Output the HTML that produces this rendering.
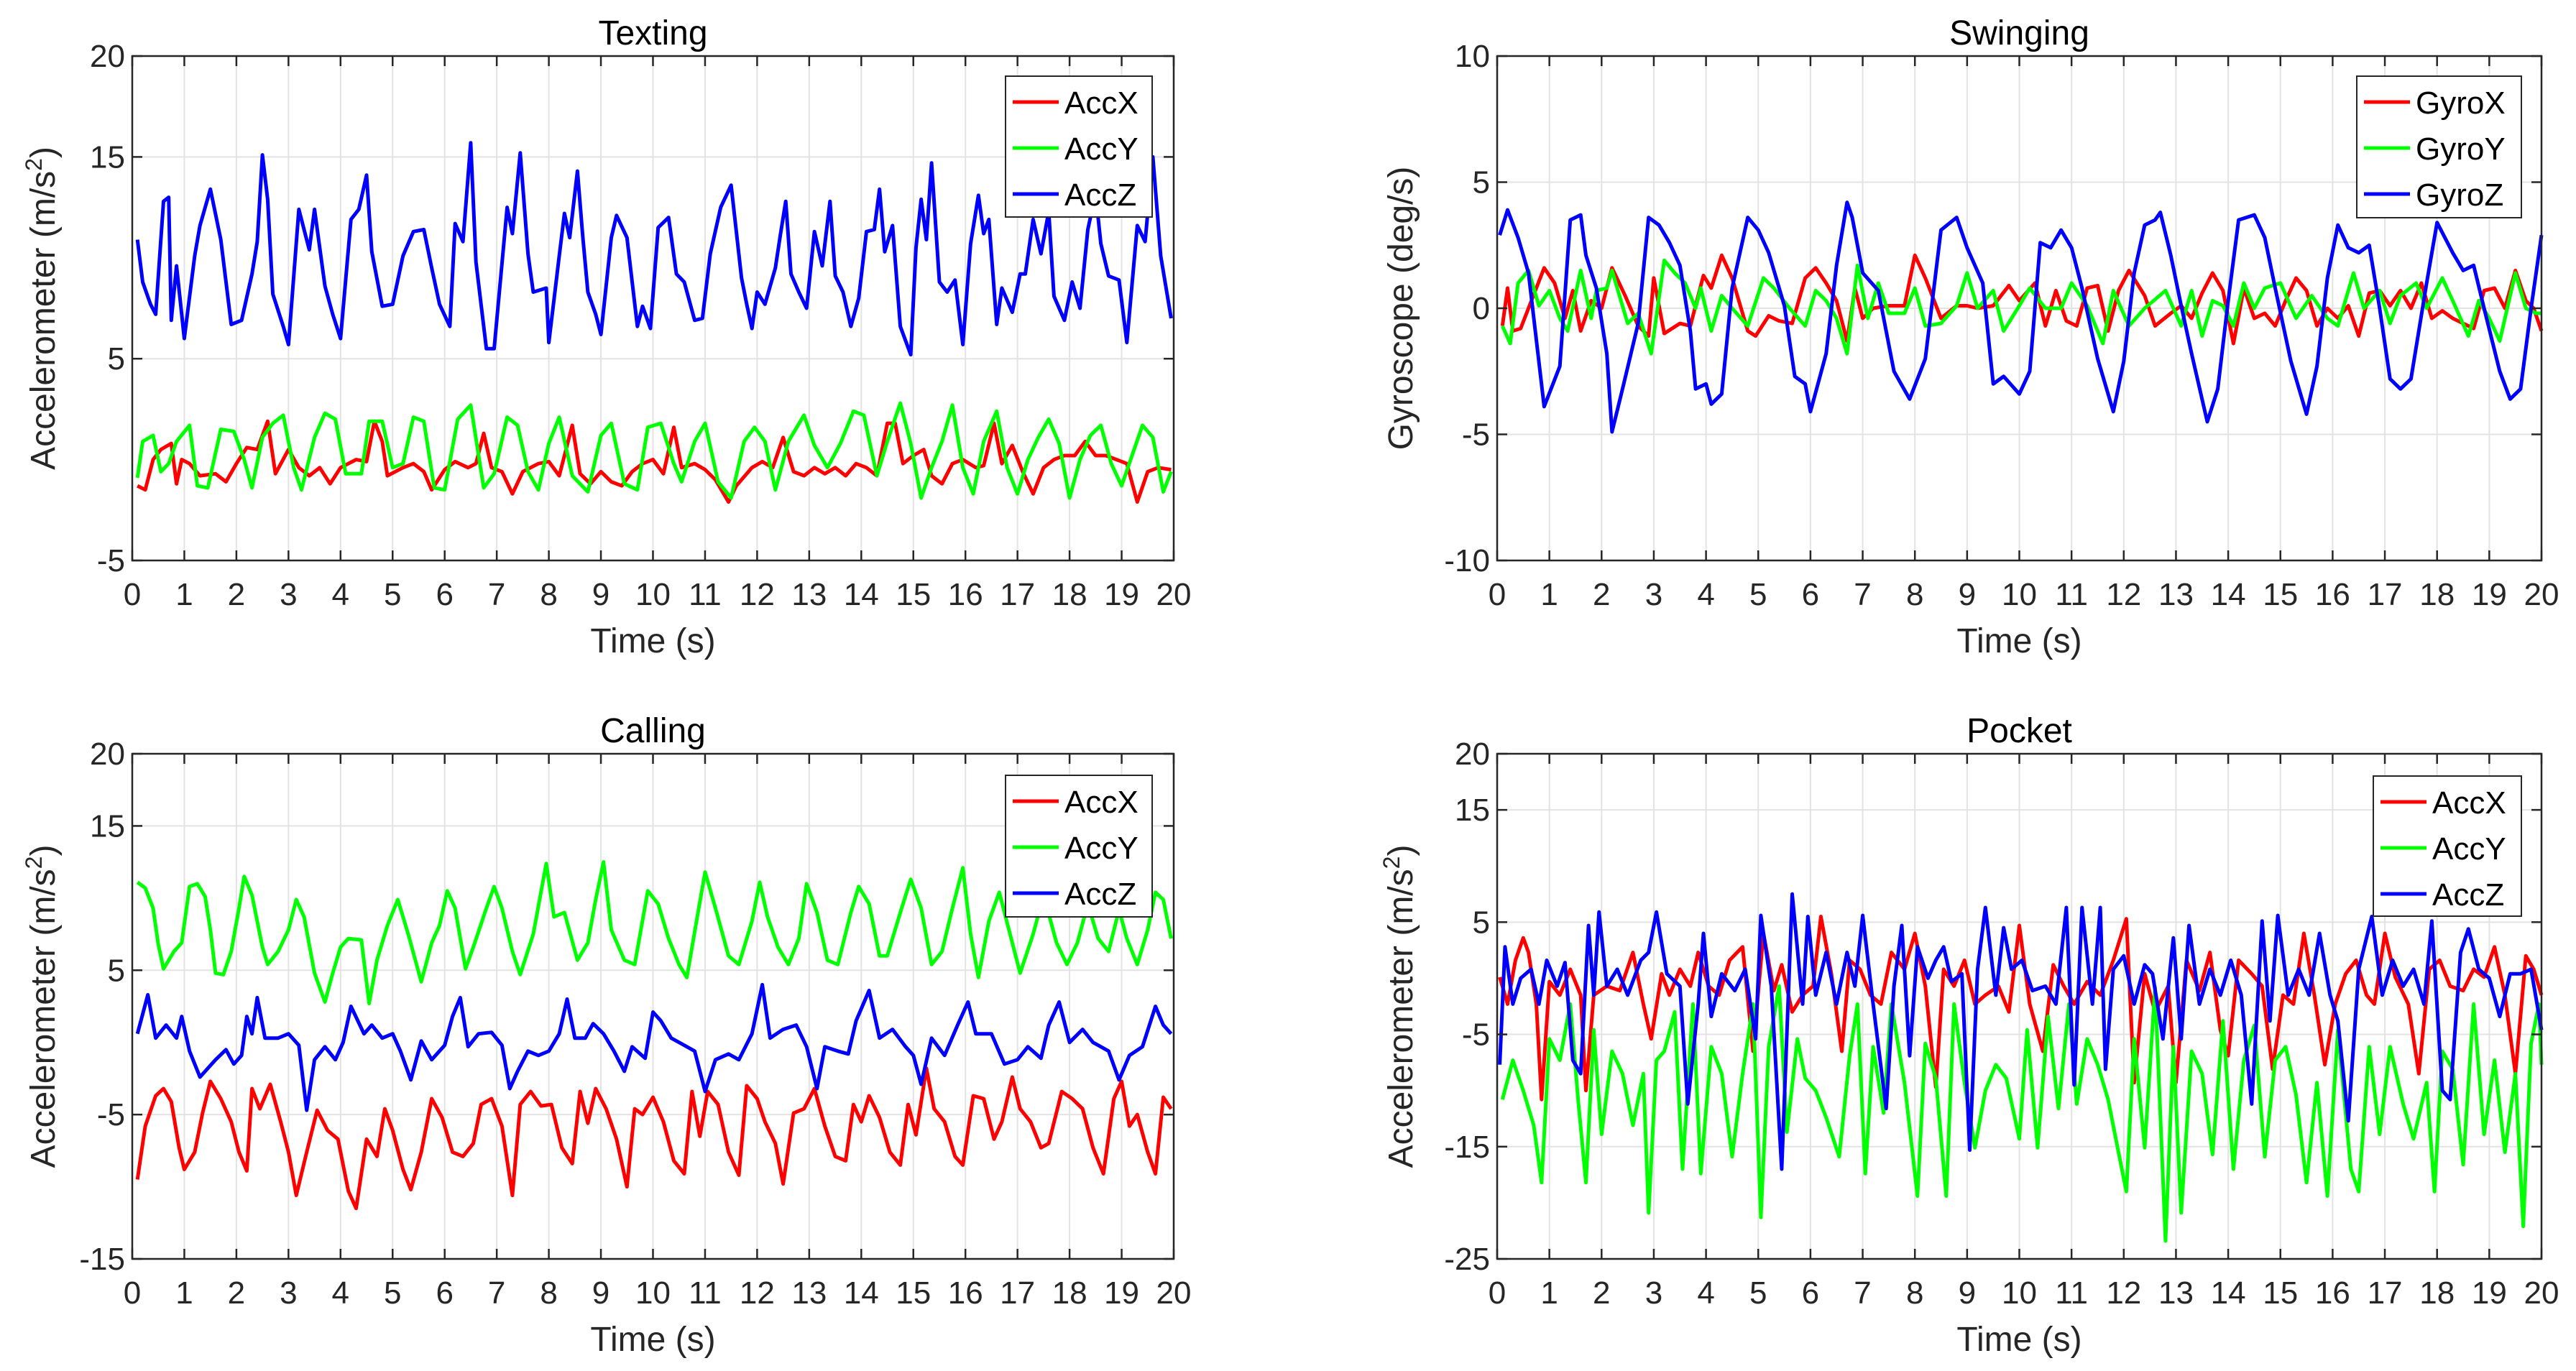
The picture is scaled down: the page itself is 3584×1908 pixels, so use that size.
<!DOCTYPE html>
<html><head><meta charset="utf-8">
<style>
html,body{margin:0;padding:0;background:#fff;}
svg{display:block;font-family:"Liberation Sans",Arial,sans-serif;}
</style></head>
<body>
<svg id="fig" xmlns="http://www.w3.org/2000/svg" width="3584" height="1908" viewBox="0 0 3584 1908"></svg>
<script>
// ---------- Texting (accelerometer) ----------
const txZ_t=[0.1,0.2,0.35,0.45,0.6,0.7,0.75,0.85,1.0,1.2,1.3,1.5,1.7,1.9,2.1,2.3,2.4,2.5,2.6,2.7,2.9,3.0,3.2,3.4,3.5,3.7,3.85,4.0,4.2,4.35,4.5,4.6,4.8,5.0,5.2,5.4,5.6,5.75,5.9,6.1,6.2,6.35,6.5,6.6,6.8,6.95,7.2,7.3,7.45,7.6,7.7,7.95,8.0,8.2,8.3,8.4,8.55,8.65,8.75,8.9,9.0,9.2,9.3,9.5,9.7,9.8,9.95,10.1,10.3,10.45,10.6,10.8,10.95,11.1,11.3,11.5,11.7,11.8,11.9,12.0,12.15,12.35,12.45,12.55,12.65,12.8,12.95,13.1,13.25,13.4,13.5,13.65,13.8,13.95,14.1,14.25,14.35,14.45,14.6,14.75,14.95,15.05,15.15,15.25,15.35,15.5,15.65,15.8,15.95,16.1,16.25,16.35,16.45,16.6,16.7,16.9,17.05,17.15,17.3,17.45,17.6,17.7,17.9,18.05,18.2,18.35,18.5,18.6,18.75,18.95,19.1,19.3,19.45,19.6,19.75,19.95];
const txZ_v=[10.9,8.8,7.7,7.2,12.8,13,6.9,9.6,6,10.1,11.6,13.4,10.9,6.7,6.9,9.2,10.8,15.1,12.9,8.2,6.6,5.7,12.4,10.4,12.4,8.6,7.2,6,11.9,12.4,14.1,10.3,7.6,7.7,10.1,11.3,11.4,9.5,7.7,6.6,11.7,10.8,15.7,9.8,5.5,5.5,12.5,11.2,15.2,10.2,8.3,8.5,5.8,10.1,12.2,11,14.3,11.1,8.3,7.2,6.2,11,12.1,11,6.6,7.6,6.5,11.5,12,9.2,8.8,6.9,7,10.2,12.5,13.6,9,7.7,6.5,8.3,7.7,9.5,11.2,12.8,9.2,8.3,7.5,11.3,9.6,12.8,9.1,8.3,6.6,8,11.3,11.4,13.4,10.3,11.6,6.6,5.2,10.5,12.9,10.9,14.7,8.8,8.3,8.9,5.7,10.7,13.1,11.2,11.9,6.7,8.5,7.3,9.2,9.2,11.9,10.2,12.3,8.1,6.9,8.8,7.5,11.4,13.2,10.7,9.1,8.9,5.8,11.6,10.8,15,10.1,7];
const txX_t=[0.1,0.25,0.4,0.55,0.75,0.85,0.95,1.1,1.3,1.6,1.8,2.0,2.2,2.4,2.6,2.75,3.0,3.2,3.4,3.6,3.8,4.0,4.3,4.5,4.65,4.8,4.9,5.2,5.4,5.6,5.75,6.0,6.2,6.45,6.6,6.75,6.9,7.1,7.3,7.5,7.8,8.0,8.2,8.45,8.6,8.8,9.0,9.2,9.4,9.6,9.8,10.0,10.2,10.4,10.55,10.8,11.0,11.2,11.45,11.6,11.9,12.1,12.3,12.5,12.7,12.9,13.1,13.3,13.5,13.7,13.9,14.1,14.3,14.5,14.65,14.8,15.0,15.2,15.35,15.55,15.75,15.95,16.2,16.35,16.55,16.7,16.9,17.1,17.3,17.5,17.7,17.9,18.1,18.3,18.5,18.7,18.9,19.1,19.3,19.5,19.7,19.95];
const txX_v=[-1.3,-1.5,0,0.5,0.8,-1.2,0,-0.2,-0.8,-0.7,-1.1,-0.2,0.6,0.5,1.9,-0.7,0.5,-0.4,-0.8,-0.4,-1.2,-0.4,0,-0.1,1.9,0.9,-0.8,-0.4,-0.2,-0.6,-1.5,-0.5,-0.1,-0.4,-0.2,1.3,-0.4,-0.6,-1.7,-0.6,-0.2,-0.1,-0.8,1.7,-0.7,-1.2,-0.6,-1.1,-1.3,-0.6,-0.2,0,-0.7,1.6,-0.4,-0.2,-0.5,-1,-2.1,-1.3,-0.4,-0.1,-0.4,1.1,-0.6,-0.8,-0.4,-0.7,-0.4,-0.8,-0.2,-0.4,-0.8,1.8,1.8,-0.2,0.2,0.5,-0.8,-1.2,-0.2,0,-0.4,-0.3,1.8,-0.2,0.7,-0.6,-1.7,-0.4,0,0.2,0.2,0.9,0.2,0.2,0,-0.2,-2.1,-0.6,-0.4,-0.5];
const txY_t=[0.1,0.2,0.4,0.55,0.7,0.85,1.1,1.25,1.45,1.7,1.95,2.15,2.3,2.5,2.7,2.9,3.1,3.25,3.5,3.7,3.9,4.1,4.4,4.55,4.8,5.0,5.2,5.4,5.6,5.8,6.0,6.25,6.5,6.75,6.95,7.2,7.4,7.6,7.8,8.0,8.2,8.45,8.75,9.0,9.2,9.45,9.7,9.9,10.15,10.4,10.55,10.8,11.0,11.25,11.5,11.75,11.95,12.15,12.35,12.6,12.9,13.1,13.35,13.6,13.85,14.05,14.3,14.5,14.75,14.95,15.15,15.35,15.55,15.75,15.95,16.15,16.35,16.6,16.8,17.0,17.2,17.4,17.6,17.8,18.0,18.2,18.4,18.6,18.8,19.0,19.2,19.4,19.6,19.8,19.95];
const txY_v=[-0.9,0.9,1.2,-0.6,-0.2,0.9,1.7,-1.3,-1.4,1.5,1.4,0,-1.4,1.1,1.8,2.2,-0.4,-1.5,1.1,2.3,2,-0.7,-0.7,1.9,1.9,-0.4,-0.2,2.1,1.9,-1.4,-1.5,2,2.7,-1.4,-0.7,2.1,1.7,-0.6,-1.5,0.8,2.1,-0.8,-1.6,1.2,1.8,-1.2,-1.5,1.6,1.8,-0.2,-1.1,0.9,1.8,-1.1,-1.9,0.9,1.6,0.9,-1.5,0.9,2.2,0.7,-0.4,0.8,2.4,2.2,-0.8,0.9,2.8,0.8,-1.9,-0.4,0.9,2.7,-0.4,-1.7,0.9,2.4,-0.4,-1.7,0,1.1,2,0.8,-1.9,0,1.2,1.7,-0.2,-1.3,0.2,1.7,1.1,-1.6,-0.6];

// ---------- Swinging (gyroscope) ----------
const swZ_t=[0.05,0.2,0.4,0.6,0.9,1.2,1.4,1.6,1.7,1.9,2.1,2.2,2.4,2.7,2.9,3.1,3.3,3.5,3.7,3.8,4.0,4.1,4.3,4.5,4.8,5.0,5.2,5.5,5.7,5.9,6.0,6.3,6.5,6.7,6.8,7.0,7.3,7.6,7.9,8.2,8.5,8.8,9.0,9.3,9.5,9.7,10.0,10.2,10.4,10.6,10.8,11.0,11.2,11.5,11.8,12.0,12.2,12.4,12.6,12.7,12.9,13.1,13.3,13.6,13.8,14.0,14.2,14.5,14.7,14.9,15.2,15.5,15.7,15.9,16.1,16.3,16.5,16.7,16.9,17.1,17.3,17.5,17.8,18.0,18.3,18.5,18.7,18.9,19.2,19.4,19.6,19.8,20.0];
const swZ_v=[2.9,3.9,2.8,1.4,-3.9,-2.3,3.5,3.7,2.1,0.8,-1.8,-4.9,-3.2,-0.6,3.6,3.3,2.6,1.7,-0.9,-3.2,-3,-3.8,-3.4,0.8,3.6,3.1,2.2,0.1,-2.7,-3,-4.1,-1.8,1.7,4.2,3.6,1.4,0.7,-2.5,-3.6,-2,3.1,3.6,2.4,1,-3,-2.7,-3.4,-2.5,2.6,2.4,3.1,2.4,0.8,-2,-4.1,-2.1,1.4,3.3,3.5,3.8,2.1,0.1,-1.8,-4.5,-3.2,0.3,3.5,3.7,2.8,0.8,-2.1,-4.2,-2.3,1.2,3.3,2.4,2.2,2.5,0,-2.8,-3.2,-2.8,1,3.4,2.2,1.5,1.7,0,-2.5,-3.6,-3.2,0,2.9];
const swX_t=[0.1,0.2,0.3,0.45,0.6,0.9,1.1,1.3,1.45,1.6,1.8,2.0,2.2,2.45,2.7,2.9,3.0,3.2,3.5,3.7,3.95,4.1,4.3,4.5,4.8,4.95,5.2,5.4,5.65,5.9,6.1,6.3,6.5,6.7,6.85,7.0,7.2,7.5,7.8,8.0,8.2,8.5,8.8,9.0,9.2,9.5,9.8,10.0,10.3,10.5,10.7,10.9,11.1,11.3,11.5,11.7,11.9,12.1,12.4,12.6,12.9,13.1,13.3,13.5,13.7,13.9,14.1,14.3,14.5,14.7,14.9,15.1,15.3,15.5,15.7,15.9,16.1,16.3,16.5,16.7,16.9,17.1,17.3,17.5,17.7,17.9,18.1,18.3,18.5,18.7,18.9,19.1,19.3,19.5,19.7,19.85,20.0];
const swX_v=[-0.7,0.8,-0.9,-0.8,0,1.6,1,-0.4,0.7,-0.9,0.3,0,1.6,0.5,-0.7,-1.1,1.2,-1,-0.6,-0.7,1.3,0.8,2.1,1.2,-0.9,-1.1,-0.3,-0.5,-0.6,1.2,1.6,1,0.3,-1.3,0.8,-0.4,0,0.1,0.1,2.1,1.2,-0.4,0.1,0.1,0,0.1,0.9,0.3,1,-0.7,0.7,-0.5,-0.7,0.8,0.9,-0.9,0.7,1.5,0.5,-0.7,-0.2,0.1,-0.4,0.6,1.4,0.7,-1.4,0.8,-0.4,-0.2,-0.7,0.3,1.2,0.7,-0.7,0,-0.4,0.1,-1.1,0.6,0.7,0.1,0.7,0,1,-0.4,-0.1,-0.4,-0.6,-0.8,0.7,0.8,0,1.5,0.3,0,-0.9];
const swY_t=[0.1,0.25,0.4,0.6,0.8,1.0,1.2,1.35,1.6,1.8,1.9,2.1,2.2,2.5,2.7,2.95,3.2,3.4,3.6,3.8,3.9,4.1,4.3,4.5,4.8,5.1,5.3,5.6,5.9,6.1,6.3,6.5,6.7,6.9,7.1,7.3,7.5,7.8,8.0,8.2,8.5,8.8,9.0,9.2,9.5,9.7,10.0,10.2,10.5,10.8,11.0,11.3,11.6,11.8,12.1,12.4,12.8,13.1,13.3,13.5,13.7,13.9,14.1,14.3,14.5,14.7,15.0,15.3,15.6,15.9,16.1,16.4,16.6,16.9,17.1,17.3,17.6,17.8,18.1,18.3,18.6,18.8,19.0,19.2,19.5,19.7,19.9,20.0];
const swY_v=[-0.7,-1.4,1,1.5,0.1,0.7,-0.4,-0.9,1.5,-0.4,0.7,0.8,1.5,-0.6,-0.2,-1.8,1.9,1.4,1,0,0.8,-0.9,0.5,0,-0.7,1.2,0.8,0,-0.7,0.7,0.3,-0.4,-1.8,1.7,-0.4,1,-0.2,-0.2,0.8,-0.7,-0.6,0.1,1.4,0,0.7,-0.9,0.1,0.8,0,0,1,0.1,-1.4,0.7,-0.7,0,0.7,-0.7,0.7,-1.1,0.3,0.1,-0.7,1,0,0.8,1,-0.4,0.5,-0.4,-0.7,1.4,0,0.7,-0.6,0.5,1,0,1.2,0.3,-1.1,0.3,-0.4,-1.3,1.4,0,-0.2,-0.2];

// ---------- Calling (accelerometer) ----------
const caY_t=[0.1,0.25,0.4,0.5,0.6,0.8,0.95,1.1,1.25,1.4,1.5,1.6,1.75,1.9,2.05,2.15,2.3,2.5,2.6,2.8,3.0,3.15,3.3,3.5,3.7,3.85,4.0,4.15,4.4,4.55,4.7,4.9,5.1,5.3,5.55,5.75,5.9,6.05,6.2,6.4,6.55,6.8,6.95,7.1,7.3,7.45,7.7,7.95,8.1,8.3,8.55,8.75,8.9,9.05,9.2,9.45,9.65,9.9,10.1,10.3,10.5,10.65,10.85,11.0,11.2,11.45,11.65,11.9,12.05,12.2,12.4,12.6,12.8,12.95,13.15,13.35,13.55,13.8,13.95,14.15,14.35,14.5,14.75,14.95,15.15,15.35,15.55,15.75,15.95,16.1,16.25,16.45,16.65,16.9,17.05,17.3,17.5,17.75,17.95,18.15,18.35,18.55,18.75,18.95,19.1,19.3,19.5,19.65,19.8,19.95];
const caY_v=[11.1,10.7,9.3,6.8,5.1,6.3,6.9,10.8,11,10.1,7.8,4.8,4.7,6.3,9.3,11.5,10.2,6.6,5.4,6.3,7.8,9.9,8.7,4.8,2.8,4.8,6.6,7.2,7.1,2.7,5.7,8.1,9.9,7.5,4.2,6.9,8.1,10.5,9.3,5.1,6.6,9.3,10.8,9.3,6.3,4.7,7.5,12.4,8.7,9,5.7,6.9,9.9,12.5,7.8,5.7,5.4,10.5,9.6,7.2,5.4,4.5,8.7,11.8,9.3,6,5.4,8.4,11.1,8.7,6.6,5.4,7.2,11,9,5.7,5.4,9,10.8,9.6,6,6,9,11.3,9.3,5.4,6.3,9.3,12.1,7.5,4.5,8.4,10.4,6.9,4.8,7.5,10.2,6.9,5.4,6.9,9.6,7.2,6.3,9.2,7.2,5.4,7.8,10.4,9.9,7.2];
const caZ_t=[0.1,0.3,0.45,0.65,0.85,0.95,1.1,1.3,1.6,1.8,1.95,2.1,2.2,2.3,2.4,2.55,2.8,3.0,3.2,3.35,3.5,3.7,3.9,4.05,4.2,4.45,4.6,4.8,5.0,5.15,5.35,5.55,5.75,6.0,6.15,6.3,6.45,6.65,6.9,7.1,7.25,7.4,7.6,7.8,8.0,8.2,8.35,8.5,8.7,8.85,9.05,9.25,9.45,9.6,9.85,10.0,10.15,10.35,10.6,10.8,11.0,11.2,11.45,11.65,11.9,12.1,12.25,12.5,12.75,12.95,13.15,13.3,13.55,13.75,13.9,14.15,14.35,14.6,14.85,15.0,15.15,15.35,15.6,15.85,16.05,16.2,16.5,16.75,17.0,17.2,17.45,17.6,17.8,18.0,18.25,18.45,18.75,18.95,19.15,19.4,19.65,19.8,19.95];
const caZ_v=[0.6,3.3,0.3,1.2,0.3,1.8,-0.6,-2.4,-1.2,-0.5,-1.5,-0.9,1.8,0.6,3.1,0.3,0.3,0.6,-0.2,-4.7,-1.2,-0.3,-1.2,0,2.5,0.6,1.2,0.3,0.6,-0.6,-2.6,0.1,-1.2,-0.2,1.8,3.1,-0.3,0.6,0.7,-0.2,-3.2,-2,-0.6,-0.9,-0.6,0.6,3,0.3,0.3,1.3,0.6,-0.6,-2,-0.3,-1.1,2.1,1.5,0.3,-0.2,-0.6,-3.4,-1.2,-0.8,-1.2,0.6,4,0.3,0.9,1.2,-0.3,-3.2,-0.3,-0.6,-0.8,1.5,3.6,0.3,0.9,-0.3,-0.9,-2.9,0.3,-0.9,1.2,2.8,0.6,0.6,-1.5,-1.2,-0.3,-1.1,1.2,2.8,0,0.9,0,-0.6,-2.6,-0.9,-0.3,2.5,1.2,0.6];
const caX_t=[0.1,0.25,0.45,0.6,0.75,0.9,1.0,1.2,1.35,1.5,1.7,1.9,2.05,2.2,2.3,2.45,2.65,2.85,3.0,3.15,3.35,3.55,3.75,3.95,4.15,4.3,4.5,4.7,4.85,5.0,5.2,5.35,5.55,5.75,5.95,6.15,6.35,6.55,6.7,6.9,7.1,7.3,7.45,7.65,7.85,8.05,8.25,8.45,8.6,8.75,8.9,9.1,9.3,9.5,9.65,9.8,10.0,10.2,10.4,10.6,10.75,10.9,11.05,11.25,11.45,11.65,11.8,12.0,12.15,12.35,12.5,12.7,12.9,13.1,13.3,13.5,13.7,13.85,14.0,14.15,14.35,14.55,14.75,14.9,15.05,15.25,15.4,15.6,15.8,15.95,16.15,16.35,16.55,16.7,16.9,17.05,17.25,17.45,17.6,17.85,18.05,18.25,18.45,18.65,18.85,19.0,19.15,19.3,19.5,19.65,19.8,19.95];
const caX_v=[-9.5,-5.8,-3.7,-3.2,-4.1,-7.3,-8.8,-7.6,-4.9,-2.7,-3.9,-5.5,-7.6,-8.9,-3.2,-4.6,-2.9,-5.5,-7.6,-10.6,-7.6,-4.7,-6.1,-6.7,-10.3,-11.5,-6.7,-7.9,-4.6,-6.1,-8.8,-10.2,-7.6,-3.9,-5.2,-7.6,-7.9,-7,-4.3,-3.9,-5.8,-10.6,-4.3,-3.4,-4.4,-4.3,-7.3,-8.4,-3.4,-5.6,-3.2,-4.6,-6.7,-10,-4.6,-5,-3.8,-5.5,-8.2,-9.1,-3.4,-6.5,-3.4,-4.3,-7.6,-9.2,-3,-3.9,-5.5,-7,-9.8,-4.9,-4.6,-3.2,-5.8,-7.9,-8.2,-4.3,-5.5,-3.7,-5.2,-7.6,-8.5,-4.3,-6.4,-1.8,-4.6,-5.5,-7.9,-8.5,-3.7,-3.9,-6.7,-5.5,-2.4,-4.6,-5.5,-7.3,-7,-3.4,-3.9,-4.6,-7.3,-9.1,-3.9,-2.7,-5.8,-5,-7.6,-9.1,-3.8,-4.6];

// ---------- Pocket (accelerometer) ----------
const poY_t=[0.1,0.3,0.5,0.7,0.85,1.0,1.2,1.4,1.55,1.7,1.85,2.0,2.2,2.4,2.6,2.8,2.9,3.05,3.2,3.4,3.55,3.75,3.9,4.1,4.3,4.5,4.7,4.9,5.05,5.2,5.4,5.55,5.75,5.9,6.1,6.3,6.55,6.75,6.9,7.05,7.2,7.4,7.55,7.8,8.05,8.2,8.4,8.6,8.75,8.95,9.15,9.35,9.55,9.75,10.0,10.15,10.35,10.55,10.75,10.95,11.1,11.3,11.5,11.7,11.9,12.05,12.2,12.4,12.6,12.8,12.95,13.1,13.3,13.5,13.7,13.9,14.1,14.3,14.5,14.7,14.9,15.1,15.3,15.5,15.7,15.9,16.1,16.35,16.5,16.7,16.9,17.1,17.35,17.55,17.8,17.95,18.1,18.3,18.5,18.7,18.9,19.1,19.3,19.5,19.65,19.8,19.95,20.0];
const poY_v=[-10.8,-7.3,-10,-13.1,-18.2,-5.4,-7.3,-2.3,-10.8,-18.2,-4.6,-13.9,-6.5,-8.5,-13.1,-8.5,-20.9,-7.3,-6.5,-3,-17,-2.3,-17.4,-6.1,-8.5,-15.9,-8.5,-2.3,-21.3,-6.1,-0.7,-13.7,-5.4,-8.9,-10,-12.4,-15.9,-6.9,-2.3,-17.4,-6.1,-12,-2.3,-9.3,-19.4,-5.8,-8.9,-19.4,-2.3,-9.3,-15.1,-10,-7.7,-8.9,-14.3,-4.6,-15.1,-3.4,-11.6,-2.3,-11.2,-5.4,-7.7,-10.8,-15.5,-19,-5.4,-15.1,-0.8,-23.4,-6.1,-20.9,-6.5,-8.5,-15.7,-3.8,-17,-7.3,-4.2,-15.9,-7.3,-6.1,-10.4,-18.2,-9.3,-19.4,-4.6,-17,-19,-6.1,-13.9,-6.1,-11.2,-14.3,-9.3,-19,-6.5,-8.1,-16.6,-2.3,-13.9,-7.3,-15.5,-8.5,-22.1,-5.8,-2.3,-7.7];
const poZ_t=[0.05,0.15,0.3,0.45,0.65,0.8,0.95,1.15,1.3,1.45,1.6,1.75,1.85,1.95,2.1,2.3,2.5,2.75,2.9,3.05,3.25,3.5,3.65,3.85,3.95,4.1,4.3,4.55,4.75,4.95,5.05,5.25,5.45,5.65,5.85,5.95,6.1,6.3,6.5,6.7,6.85,7.0,7.2,7.45,7.6,7.75,7.9,8.05,8.25,8.4,8.55,8.7,8.9,9.05,9.2,9.35,9.55,9.7,9.85,10.05,10.25,10.5,10.7,10.9,11.05,11.2,11.4,11.55,11.65,11.8,12.0,12.2,12.4,12.55,12.75,12.95,13.1,13.25,13.45,13.65,13.85,14.05,14.25,14.45,14.65,14.8,14.95,15.15,15.35,15.55,15.75,15.95,16.1,16.3,16.5,16.75,16.95,17.15,17.35,17.55,17.75,17.9,18.1,18.25,18.45,18.6,18.8,19.0,19.2,19.4,19.6,19.8,20.0];
const poZ_v=[-7.7,2.8,-2.3,0,0.8,-2.3,1.6,-0.7,1.4,-7.3,-8.5,4.7,-1.5,5.9,-0.7,0.8,-1.5,1.6,2.3,5.9,0.4,-0.7,-11.2,-2.3,4,-3.4,0.4,-1.1,0.8,-5.4,5.6,-0.7,-17,7.5,-2.3,5.5,-1.5,2.3,-2.3,2.3,-0.7,5.6,-2.3,-11.6,-0.7,4.7,-6.9,2.8,0,1.6,2.8,-0.3,0.4,-15.3,0.8,6.3,-1.5,4.5,0.8,1.6,-1.1,-0.7,-2.3,6.3,-9.5,6.3,-2.3,6.3,-8.1,0.8,2,-2.3,1.2,0.4,-5.4,3.6,-5.4,4.7,-2.3,0.8,-1.5,1.6,-1.5,-11.2,5.1,-3.8,5.6,-1.5,0.8,-1.5,4,-1.5,-3.8,-12.7,0.8,5.5,-1.5,1.6,-0.7,0.8,-2.3,5.1,-10,-10.8,2.3,4.4,0.8,0,-3.4,0.4,0.4,0.8,-4.6];
const poX_t=[0.05,0.2,0.35,0.5,0.6,0.75,0.85,1.0,1.2,1.4,1.6,1.7,1.85,2.1,2.35,2.6,2.8,2.95,3.15,3.3,3.5,3.7,3.85,4.05,4.25,4.45,4.7,4.9,5.1,5.3,5.45,5.65,5.85,6.05,6.2,6.4,6.6,6.75,6.95,7.15,7.35,7.55,7.8,8.0,8.2,8.4,8.55,8.75,8.95,9.15,9.35,9.6,9.8,10.0,10.2,10.45,10.65,10.85,11.05,11.3,11.55,11.8,12.05,12.2,12.4,12.6,12.85,13.0,13.2,13.45,13.65,13.85,14.0,14.2,14.45,14.65,14.85,15.05,15.25,15.45,15.65,15.85,16.05,16.25,16.45,16.65,16.8,17.0,17.2,17.45,17.65,17.85,18.05,18.25,18.5,18.7,18.9,19.1,19.3,19.5,19.7,19.85,20.0];
const poX_v=[0.1,-2.3,1.6,3.6,2.3,-2.3,-10.8,-0.3,-1.5,0.8,-1.5,-10,-1.5,-0.7,-1.1,2.3,-2.3,-5.4,0.4,-1.5,0.8,-0.7,2.3,-0.7,-1.5,1.6,2.8,-6.5,4,-1.1,1.2,-3,-1.5,-0.7,5.5,0.4,-6.5,1.6,0.8,-1.5,-2.3,2.3,0.8,4,-0.7,-9.7,0.8,-0.7,1.6,-2.3,-1.5,-0.7,-3,4.7,-2.3,-6.5,1.2,-0.7,-2.3,-0.3,-1.5,1.6,5.3,-9.3,0.4,-3,-0.7,-9.3,1.6,-1.1,2.3,-4.6,-6.9,1.6,0.4,-0.7,-8.1,-1.5,-2.3,4,-1.5,-7.7,-2.3,0.4,1.6,-1.5,-2.3,4,0.1,-2.3,-8.5,0.8,1.6,-0.7,-1.1,0.8,0.1,2.8,-1.5,-8.5,2,0.8,-1.5];

// ---------- axis config ----------
const xTicks=[0,1,2,3,4,5,6,7,8,9,10,11,12,13,14,15,16,17,18,19,20];
const ticksTexting=[20,15,5,-5];
const ticksSwinging=[10,5,0,-5,-10];
const ticksCalling=[20,15,5,-5,-15];
const ticksPocket=[20,15,5,-5,-15,-25];

const NS='http://www.w3.org/2000/svg';
const svg=document.getElementById('fig');
function mk(tag,attrs,parent){const e=document.createElementNS(NS,tag);for(const k in attrs)e.setAttribute(k,attrs[k]);(parent||svg).appendChild(e);return e;}

const RED='#ff0000',GREEN='#00ff00',BLUE='#0000ff';

function panel(cfg){
  const g=mk('g',{});
  
  
  const {x0,x1,y0,y1,ymin,ymax}=cfg;
  const sx=t=>x0+(t-0)/(20-0)*(x1-x0);
  const sy=v=>y1-(v-ymin)/(ymax-ymin)*(y1-y0);
  // grid
  xTicks.forEach(t=>{
    const l=mk('line',{x1:sx(t),x2:sx(t),y1:y0,y2:y1,stroke:'#e3e3e3','stroke-width':2},g);
    
    
  });
  cfg.yTicks.forEach(v=>{
    const l=mk('line',{x1:x0,x2:x1,y1:sy(v),y2:sy(v),stroke:'#e3e3e3','stroke-width':2},g);
    
    
  });
  // series
  cfg.series.forEach(s=>{
    const d=s.t.map((t,i)=>(i?'L':'M')+sx(t).toFixed(1)+' '+sy(s.v[i]).toFixed(1)).join(' ');
    const p=mk('path',{d:d,fill:'none',stroke:s.color,'stroke-width':5,'stroke-linejoin':'round'},g);
    
    
  });
  // axes box
  const box=mk('rect',{x:x0,y:y0,width:x1-x0,height:y1-y0,fill:'none',stroke:'#262626','stroke-width':2.5},g);
  
  
  // x ticks
  xTicks.forEach(t=>{
    mk('line',{x1:sx(t),x2:sx(t),y1:y1,y2:y1-14,stroke:'#262626','stroke-width':2.5},g);
    mk('line',{x1:sx(t),x2:sx(t),y1:y0,y2:y0+14,stroke:'#262626','stroke-width':2.5},g);
    const tx=mk('text',{x:sx(t),y:y1+62,'font-size':44,'text-anchor':'middle',fill:'#262626'},g);
    tx.textContent=t;
    
    
  });
  cfg.yTicks.forEach(v=>{
    mk('line',{x1:x0,x2:x0+14,y1:sy(v),y2:sy(v),stroke:'#262626','stroke-width':2.5},g);
    mk('line',{x1:x1,x2:x1-14,y1:sy(v),y2:sy(v),stroke:'#262626','stroke-width':2.5},g);
    const tx=mk('text',{x:x0-10,y:sy(v)+15,'font-size':44,'text-anchor':'end',fill:'#262626'},g);
    tx.textContent=v;
    
    
  });
  // title
  const ti=mk('text',{x:(x0+x1)/2,y:y0-16,'font-size':48,'text-anchor':'middle',fill:'#000'},g);
  ti.textContent=cfg.title;
  
  
  // x label
  const xl=mk('text',{x:(x0+x1)/2,y:y1+128,'font-size':48,'text-anchor':'middle',fill:'#262626'},g);
  xl.textContent='Time (s)';
  
  
  // y label
  const yc=(y0+y1)/2;
  const yl=mk('text',{x:0,y:0,'font-size':48,'text-anchor':'middle',fill:'#262626',transform:`translate(${x0-cfg.ylabOff},${yc}) rotate(-90)`},g);
  
  
  if(cfg.gyro){yl.textContent='Gyroscope (deg/s)';}
  else{
    yl.appendChild(document.createTextNode('Accelerometer (m/s'));
    const sup=mk('tspan',{'font-size':32,dy:-18},yl);sup.textContent='2';
    const cl=mk('tspan',{dy:18},yl);cl.textContent=')';
  }
  // legend
  const L=cfg.legend;
  const lg=mk('g',{},g);
  
  
  mk('rect',{x:L.x,y:L.y,width:L.w,height:L.h,fill:'#fff',stroke:'#262626','stroke-width':2},lg);
  cfg.series.forEach((s,i)=>{
    const yy=L.y+36+i*64;
    const e=mk('g',{},lg);
    
    
    mk('line',{x1:L.x+10,x2:L.x+74,y1:yy,y2:yy,stroke:s.color,'stroke-width':5},e);
    const t=mk('text',{x:L.x+82,y:yy+16,'font-size':44,fill:'#000'},e);
    t.textContent=s.label;
  });
}

panel({name:'texting',title:'Texting',x0:184,x1:1633,y0:78,y1:780,ymin:-5,ymax:20,yTicks:ticksTexting,ylabOff:108,
  legend:{x:1399,y:106,w:204,h:196},
  series:[{label:'AccX',color:RED,t:txX_t,v:txX_v},{label:'AccY',color:GREEN,t:txY_t,v:txY_v},{label:'AccZ',color:BLUE,t:txZ_t,v:txZ_v}]});
panel({name:'swinging',title:'Swinging',x0:2083,x1:3536,y0:78,y1:780,ymin:-10,ymax:10,yTicks:ticksSwinging,ylabOff:118,gyro:true,
  legend:{x:3279,y:106,w:229,h:197},
  series:[{label:'GyroX',color:RED,t:swX_t,v:swX_v},{label:'GyroY',color:GREEN,t:swY_t,v:swY_v},{label:'GyroZ',color:BLUE,t:swZ_t,v:swZ_v}]});
panel({name:'calling',title:'Calling',x0:184,x1:1633,y0:1049,y1:1752,ymin:-15,ymax:20,yTicks:ticksCalling,ylabOff:108,
  legend:{x:1399,y:1079,w:204,h:197},
  series:[{label:'AccX',color:RED,t:caX_t,v:caX_v},{label:'AccY',color:GREEN,t:caY_t,v:caY_v},{label:'AccZ',color:BLUE,t:caZ_t,v:caZ_v}]});
panel({name:'pocket',title:'Pocket',x0:2083,x1:3536,y0:1049,y1:1752,ymin:-25,ymax:20,yTicks:ticksPocket,ylabOff:118,
  legend:{x:3302,y:1080,w:206,h:195},
  series:[{label:'AccX',color:RED,t:poX_t,v:poX_v},{label:'AccY',color:GREEN,t:poY_t,v:poY_v},{label:'AccZ',color:BLUE,t:poZ_t,v:poZ_v}]});
</script>
</body></html>
